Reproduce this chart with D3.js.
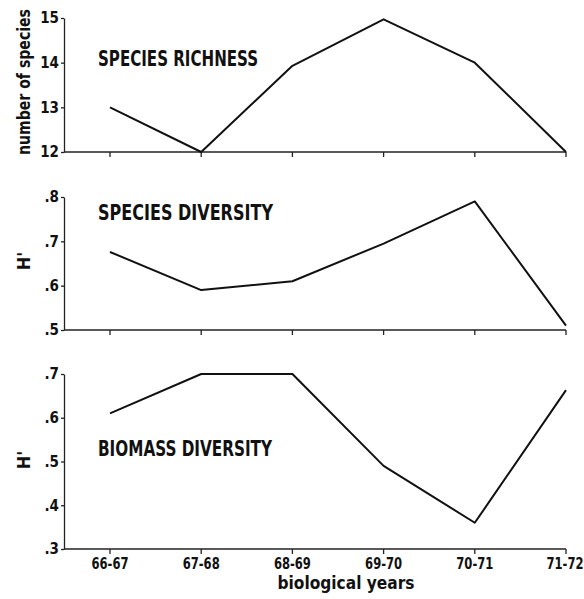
<!DOCTYPE html>
<html>
<head>
<meta charset="utf-8">
<script src="https://cdn.jsdelivr.net/npm/d3@7"></script>
<style>
  body { margin: 0; background: #fff; }
  text { font-family: "DejaVu Sans Condensed", "DejaVu Sans", sans-serif; font-weight: bold; fill: #111; }
  .axis path, .axis line { stroke: #222; stroke-width: 1.3; }
</style>
</head>
<body>
<div id="chart"></div>
<script>
// data
var years = ["66-67", "67-68", "68-69", "69-70", "70-71", "71-72"];
var richness = [13.0, 12.0, 13.93, 14.97, 14.0, 12.0];
var speciesDiv = [0.676, 0.59, 0.61, 0.695, 0.79, 0.51];
var biomassDiv = [0.61, 0.70, 0.70, 0.49, 0.36, 0.663];

var richTicks = [12, 13, 14, 15];
var divTicks = [0.5, 0.6, 0.7, 0.8];
var bioTicks = [0.3, 0.4, 0.5, 0.6, 0.7];

function init() {
  var w = 584;
  var h = 599;

  var svg = d3.select("#chart")
    .append("svg")
    .attr("width", w)
    .attr("height", h);

  var x = d3.scalePoint()
    .domain(years)
    .range([110, 566]);
  var left = 64;

  var decFmt = function (d) { return d3.format(".1f")(d).replace("0.", "."); };

  var panels = [
    { values: richness, ticks: richTicks, top: 18, bottom: 152, fmt: d3.format("d"),
      title: "SPECIES RICHNESS", titleY: 66, titleW: 160, ylabel: "number of species", ylabelW: 146, ylabelY: 82 },
    { values: speciesDiv, ticks: divTicks, top: 197, bottom: 330, fmt: decFmt,
      title: "SPECIES DIVERSITY", titleY: 220, titleW: 175, ylabel: "H'", ylabelW: 0, ylabelY: 261 },
    { values: biomassDiv, ticks: bioTicks, top: 374, bottom: 549, fmt: decFmt,
      title: "BIOMASS DIVERSITY", titleY: 456, titleW: 174, ylabel: "H'", ylabelW: 0, ylabelY: 460 }
  ];

  panels.forEach(function (p, k) {
    var y = d3.scaleLinear()
      .domain(d3.extent(p.ticks))
      .range([p.bottom, p.top]);

    // y axis
    var ya = svg.append("g")
      .attr("class", "axis")
      .attr("transform", "translate(" + left + ",0)")
      .call(d3.axisLeft(y).tickValues(p.ticks).tickSize(3).tickSizeOuter(0).tickFormat(p.fmt));
    ya.selectAll("text")
      .attr("x", -5)
      .style("font-size", "15px");

    // x axis
    var xa = svg.append("g")
      .attr("class", "axis")
      .attr("transform", "translate(0," + p.bottom + ")");
    xa.append("line")
      .attr("x1", left).attr("x2", x(years[years.length - 1]))
      .attr("y1", 0).attr("y2", 0);
    xa.selectAll("line.tk")
      .data(years)
      .enter()
      .append("line")
      .attr("class", "tk")
      .attr("x1", function (d) { return x(d); })
      .attr("x2", function (d) { return x(d); })
      .attr("y1", 0)
      .attr("y2", 5);

    if (k === panels.length - 1) {
      xa.selectAll("text.tl")
        .data(years)
        .enter()
        .append("text")
        .attr("class", "tl")
        .attr("x", function (d) { return Math.min(x(d), 565); })
        .attr("y", 20)
        .attr("text-anchor", "middle")
        .attr("textLength", 37)
        .attr("lengthAdjust", "spacingAndGlyphs")
        .style("font-size", "15px")
        .text(function (d) { return d; });
    }

    // line
    var line = d3.line()
      .x(function (d, i) { return x(years[i]); })
      .y(function (d) { return y(d); });
    svg.append("path")
      .datum(p.values)
      .attr("d", line)
      .attr("fill", "none")
      .attr("stroke", "#111")
      .attr("stroke-width", 2)
      .attr("stroke-linejoin", "round");

    // title
    svg.append("text")
      .attr("x", 98)
      .attr("y", p.titleY)
      .attr("textLength", p.titleW)
      .attr("lengthAdjust", "spacingAndGlyphs")
      .style("font-size", "21px")
      .text(p.title);

    // y label
    var yl = svg.append("text")
      .attr("transform", "translate(30," + p.ylabelY + ") rotate(-90)")
      .attr("text-anchor", "middle")
      .style("font-size", "18px")
      .text(p.ylabel);
    if (p.ylabelW) {
      yl.attr("textLength", p.ylabelW).attr("lengthAdjust", "spacingAndGlyphs");
    }
  });

  svg.append("text")
    .attr("x", 346)
    .attr("y", 589)
    .attr("text-anchor", "middle")
    .attr("textLength", 137)
    .attr("lengthAdjust", "spacingAndGlyphs")
    .style("font-size", "18px")
    .text("biological years");
}

window.onload = function () {
  init();
};
</script>
</body>
</html>
